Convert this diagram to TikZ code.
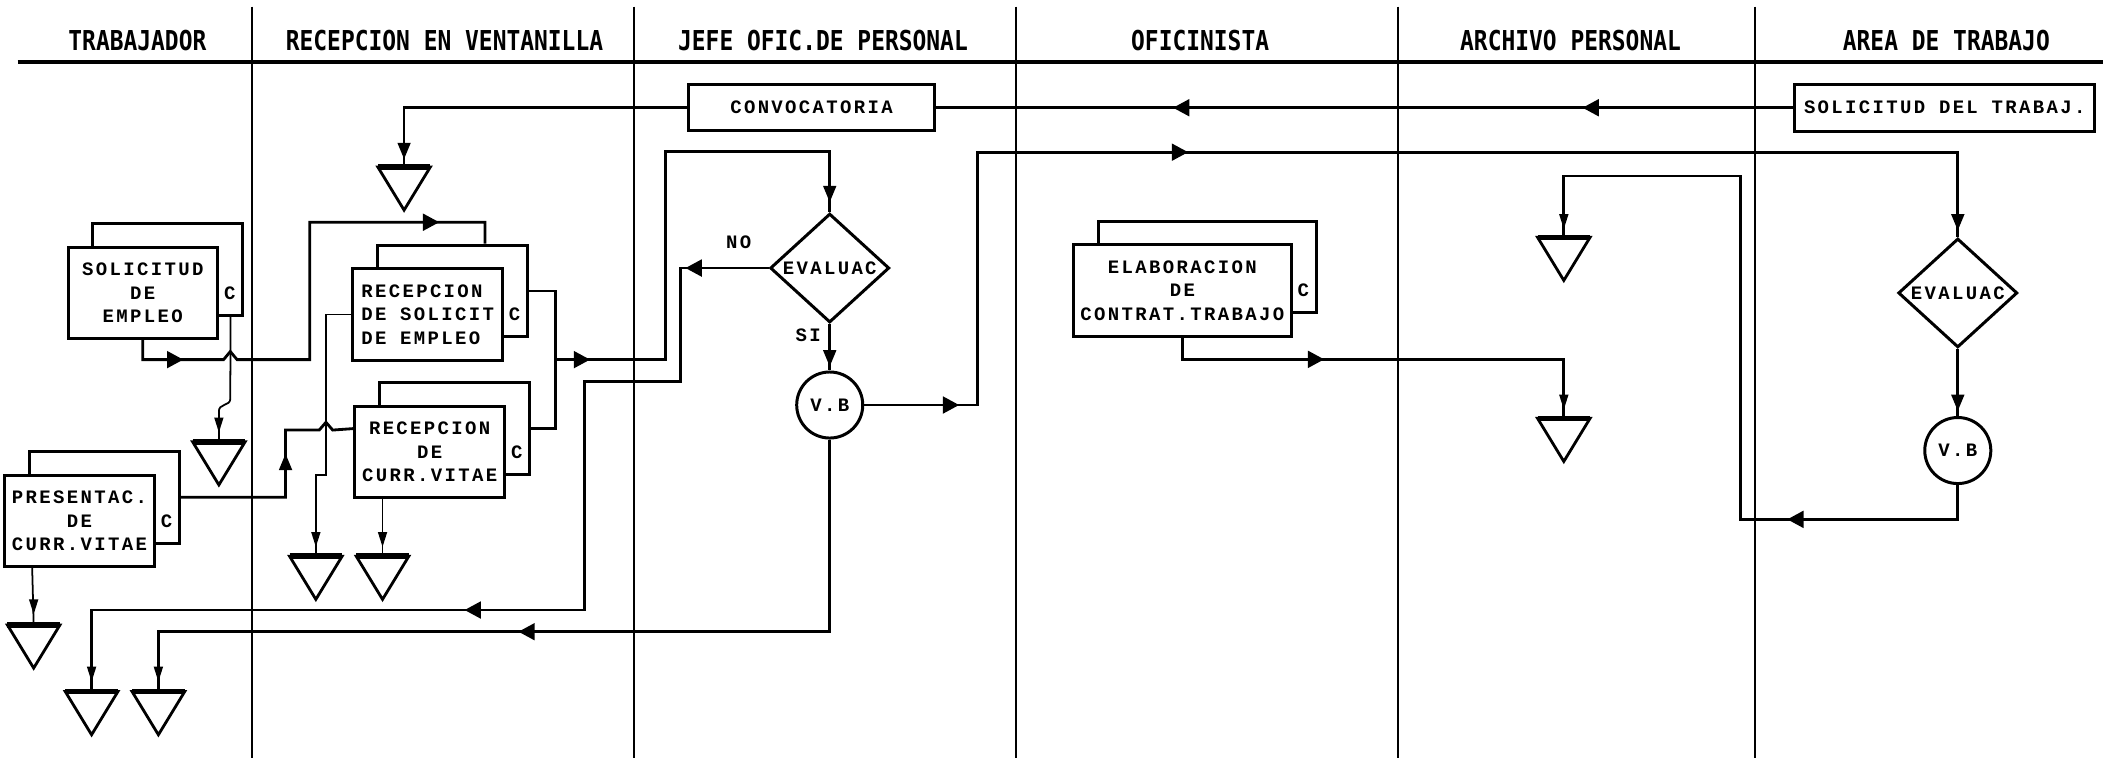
\documentclass[tikz,border=0pt]{standalone}
\usepackage{fontspec}
\usetikzlibrary{shapes.geometric,calc}
\newfontfamily\hdrfamily[FakeStretch=0.836]{DejaVu Sans Mono}
\newfontfamily\bodyfamily[LetterSpace=12.4]{Liberation Mono}
\newcommand\hdrfont{\hdrfamily\bfseries\fontsize{7.8}{9}\selectfont}
\newcommand\bodyfont{\bodyfamily\bfseries\fontsize{5.4}{6.7}\selectfont}
\tikzset{
  lane/.style={line width=0.55pt},
  conn/.style={line width=0.8pt},
  thinc/.style={line width=0.5pt},
  box/.style={draw, fill=white, line width=0.85pt, minimum width=42.55pt, minimum height=26.06pt, inner sep=0pt, font=\bodyfont, align=center},
  bbox/.style={draw, fill=white, line width=0.85pt, minimum width=42.55pt, minimum height=26.06pt, inner sep=0pt},
  hdr/.style={font=\hdrfont, inner sep=0pt},
  lbl/.style={font=\bodyfont, inner sep=0pt},
  dia/.style={draw, diamond, line width=0.85pt, inner sep=0pt, minimum width=33.9pt, minimum height=31pt},
  vbc/.style={draw, circle, line width=0.85pt, minimum size=18.8pt, inner sep=0pt, font=\bodyfont},
  ahR/.pic={\fill (0,0) -- (-12,-6.5) -- (-12,6.5) -- cycle;},
  ahL/.pic={\fill (0,0) -- (12,-6.5) -- (12,6.5) -- cycle;},
  ahD/.pic={\fill (0,0) -- (-5,-12) -- (5,-12) -- cycle;},
  ahU/.pic={\fill (0,0) -- (-5,12) -- (5,12) -- cycle;},
  ahd/.pic={\fill (0,0) -- (-3.5,-11) -- (3.5,-11) -- cycle;},
  tri/.pic={\draw[line width=0.8pt, line join=miter] (-19.5,0) -- (19.5,0) -- (0,32) -- cycle;
            \draw[line width=1.6pt] (-19.5,0) -- (19.5,0);},
}
\begin{document}
\begin{tikzpicture}[x=0.01347cm,y=-0.01347cm]
\useasboundingbox (0,0) rectangle (1568,566);
\fill[white] (0,0) rectangle (1568,566);

% lanes and header
\foreach \x in {187,471,754,1038,1303} \draw[lane] (\x,5) -- (\x,563);
\draw[line width=1pt] (13,46) -- (1561,46);
\node[hdr] (h1) at (102,30) {TRABAJADOR};
\node[hdr] (h2) at (330,30) {RECEPCION EN VENTANILLA};
\node[hdr] (h3) at (611,30) {JEFE OFIC.DE PERSONAL};
\node[hdr] (h4) at (891,30) {OFICINISTA};
\node[hdr] (h5) at (1166,30) {ARCHIVO PERSONAL};
\node[hdr] (h6) at (1445,30) {AREA DE TRABAJO};

% boxes
\node[box, minimum width=70.1pt, minimum height=13.2pt] (conv) at (602.5,80) {CONVOCATORIA};
\node[box, minimum width=85.5pt, minimum height=13.4pt] (sdt) at (1443.8,80) {SOLICITUD DEL TRABAJ.};

\node[bbox] (bsol) at (124.5,200) {};
\node[box] (fsol) at (106,217.5) {SOLICITUD\\DE\\EMPLEO};
\node[lbl] (csol) at ($(fsol.east)+(8,0)$) {C};

\node[bbox] (brs) at (336,216) {};
\node[box, align=left] (frs) at (317.5,233.5) {RECEPCION\\DE SOLICIT\\DE EMPLEO};
\node[lbl] (crs) at ($(frs.east)+(8,0)$) {C};

\node[bbox] (brc) at (337.5,318) {};
\node[box] (frc) at (319,335.5) {RECEPCION\\DE\\CURR.VITAE};
\node[lbl] (crc) at ($(frc.east)+(8,0)$) {C};

\node[bbox] (bpc) at (77.5,369.2) {};
\node[box] (fpc) at (59,386.7) {PRESENTAC.\\DE\\CURR.VITAE};
\node[lbl] (cpc) at ($(fpc.east)+(8,0)$) {C};

\node[bbox, minimum width=61.9pt] (bel) at (896.3,198.3) {};
\node[box, minimum width=61.9pt] (fel) at (877.8,215.8) {ELABORACION\\DE\\CONTRAT.TRABAJO};
\node[lbl] (cel) at ($(fel.east)+(8,0)$) {C};

% decisions and approvals
\node[dia] (d1) at (616,199) {};
\node[lbl] (e1) at (d1.center) {EVALUAC};
\node[dia] (d2) at (1453.5,217.5) {};
\node[lbl] (e2) at (d2.center) {EVALUAC};
\node[vbc] (vb1) at (616,300.7) {V.B};
\node[vbc] (vb2) at (1453.5,334.5) {V.B};
\node[lbl] (no) at (548.4,180) {NO};
\node[lbl] (si) at (600,248.7) {SI};

% archive triangles
\coordinate (t1) at (300,124);
\coordinate (t2) at (162.5,328);
\coordinate (t3) at (234.5,413);
\coordinate (t4) at (284,413);
\coordinate (t5) at (25,464);
\coordinate (t6) at (68,513.5);
\coordinate (t7) at (117.6,513.5);
\coordinate (t8) at (1161,176.2);
\coordinate (t9) at (1161,310.6);
\foreach \t in {t1,t2,t3,t4,t5,t6,t7,t8,t9} \pic at (\t) {tri};

% connectors
\draw[conn] (sdt.west) -- (conv.east);
\pic at (871,80) {ahL};
\pic at (1175,80) {ahL};

\draw[conn] (conv.west) -| (t1);
\pic at (300,118) {ahD};

\draw[conn] (fsol.south) -- (106,267) -- (166,267) -- (171,261) -- (176,267) -- (230,267) -- (230,165) -| ($(brs.north)+(24,0)$);
\pic at (136,267) {ahR};
\pic at (326,165) {ahR};

\draw[thinc] ($(bsol.south east)+(-10,0)$) -- (171,296) .. controls (171,302) and (162,299) .. (162.5,306) -- (t2);
\pic at (162.5,321) {ahd};

\draw[conn] (brs.east) -- (412.6,216) -- (412.6,318) -- (brc.east);
\coordinate (j1) at (412.6,267);
\draw[conn] (j1) -- (493.8,267) -- (493.8,112.6) -| (d1.north);
\pic at (438,267) {ahR};
\pic at (616,150) {ahD};

\draw[thinc] (frs.west) -- (242,233.5) -- (242,352.7) -- (234.5,352.7) -- (t3);
\pic at (234.5,406) {ahd};

\draw[conn] (bpc.east) -- (212,369.2) -- (212,319.3) -- (237,319.3) -- (242,313.5) -- (247,319.3) -- ($(frc.north west)+(0,17.8)$);
\pic at (212,337) {ahU};

\draw[thinc] ($(frc.south)+(-35,0)$) -- (t4);
\pic at (284,406) {ahd};

\draw[thinc] ($(fpc.south west)+(21.5,0)$) -- (t5);
\pic at (25,456) {ahd};

\draw[conn] (d1.west) -- (505.4,199) -- (505.4,283.4) -- (434,283.4) -- (434,452.9) -- (68,452.9) -- (t6);
\pic at (509,199) {ahL};
\pic at (345,452.9) {ahL};
\pic at (68,506) {ahd};

\draw[conn] (vb1.south) -- (616,469) -- (117.6,469) -- (t7);
\pic at (385,469) {ahL};
\pic at (117.6,506) {ahd};

\draw[conn] (d1.south) -- (vb1.north);
\pic at (616,272) {ahD};

\draw[conn] (vb1.east) -- (726,300.7) -- (726,113) -| (d2.north);
\pic at (712,300.7) {ahR};
\pic at (882,113) {ahR};
\pic at (1453.5,171) {ahD};

\draw[conn] (d2.south) -- (vb2.north);
\pic at (1453.5,305) {ahD};

\draw[conn] (vb2.south) -- (1453.5,385.6) -- (1292,385.6) -- (1292,130.7) -| (t8);
\pic at (1327,385.6) {ahL};
\pic at (1161,170) {ahd};

\draw[conn] (fel.south) -- (877.8,266.8) -| (t9);
\pic at (983,266.8) {ahR};
\pic at (1161,304) {ahd};
\end{tikzpicture}
\end{document}
